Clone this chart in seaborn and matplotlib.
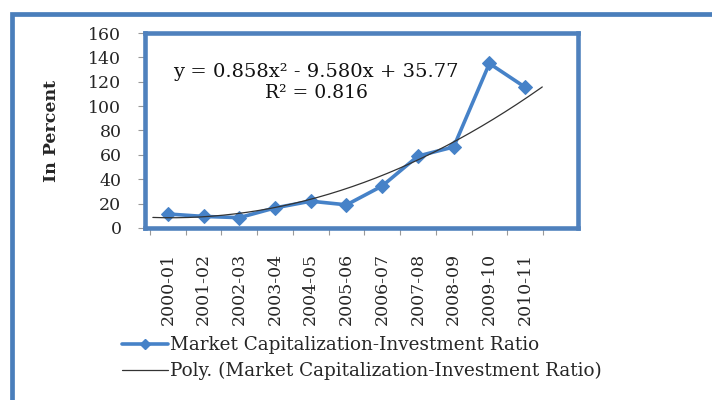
import numpy as np
import pandas as pd
import matplotlib
matplotlib.use("Agg")
import matplotlib.pyplot as plt
from matplotlib.patches import Rectangle
from matplotlib.lines import Line2D
import seaborn as sns

# ---- data ----
periods = ['2000-01', '2001-02', '2002-03', '2003-04', '2004-05', '2005-06',
           '2006-07', '2007-08', '2008-09', '2009-10', '2010-11']
ratio = [11.5, 9.5, 8.5, 16.5, 22, 19, 34.5, 59, 66.5, 135, 115.5]
# polynomial trendline at each period
trend = [9, 9.5, 11, 16, 24, 32, 44, 57, 70, 87, 106]
yticks = [0, 20, 40, 60, 80, 100, 120, 140, 160]
series_name = 'Market Capitalization-Investment Ratio'
trend_name = 'Poly. (Market Capitalization-Investment Ratio)'
eq_text = 'y = 0.858x\u00b2 - 9.580x + 35.77'
r2_text = 'R\u00b2 = 0.816'
ylabel = 'In Percent'

sns.set_theme(style='white')
plt.rcParams['font.family'] = ['DejaVu Serif', 'Liberation Serif']

W, H = 712, 400
fig = plt.figure(figsize=(W / 100, H / 100), dpi=100)
fig.patch.set_facecolor('white')

# outer chart frame
fig.patches.append(Rectangle((12 / W, -0.2), 1.2, 1.2 - 14 / H,
                             transform=fig.transFigure, fill=False,
                             edgecolor='#4a7ebb', linewidth=3.4, zorder=0))

ax = fig.add_axes([145 / W, 1 - 228 / H, (578 - 145) / W, (228 - 33) / H])

df = pd.DataFrame({'idx': np.arange(len(periods)), 'val': ratio, 'trend': trend})

blue = '#4682c8'
sns.lineplot(data=df, x='idx', y='val', ax=ax, color=blue, linewidth=2.6,
             marker='D', markersize=7, markeredgecolor=blue, markerfacecolor=blue,
             zorder=3, legend=False)

# order-2 polynomial trendline (through the trend values)
coef = np.polyfit(df['idx'], df['trend'], 2)
xs = np.linspace(-0.42, len(periods) - 1 + 0.48, 200)
ax.plot(xs, np.polyval(coef, xs), color='#333333', linewidth=0.9, zorder=4)

ax.set_xlim(-0.64, 11.48)
ax.set_ylim(0, 160)
ax.set_yticks(yticks)
ax.set_yticklabels([str(v) for v in yticks], fontsize=12.5)
ax.set_xticks(np.arange(len(periods)))
ax.set_xticklabels(periods, rotation=90, fontsize=12.5)
ax.set_xticks(np.arange(len(periods) + 1) - 0.5, minor=True)
ax.tick_params(axis='x', which='major', length=0, pad=18)
ax.tick_params(axis='x', which='minor', length=5, width=0.8, color='#999999',
               direction='out', bottom=True)
ax.tick_params(axis='y', which='major', length=5, width=0.8, color='#999999',
               direction='out', left=True, pad=12)
ax.set_xlabel('')
ax.set_ylabel(ylabel, fontsize=12.5, fontweight='bold', labelpad=20)
for s in ax.spines.values():
    s.set_visible(True)
    s.set_color('#4f81bd')
    s.set_linewidth(3.3)
ax.grid(False)
ax.set_facecolor('white')

ax.text(0.395, 0.80, eq_text, transform=ax.transAxes, ha='center', va='center',
        fontsize=14, color='#111111')
ax.text(0.395, 0.69, r2_text, transform=ax.transAxes, ha='center', va='center',
        fontsize=13.5, color='#111111')

handles = [Line2D([], [], color=blue, linewidth=2.6, marker='D', markersize=5,
                  markerfacecolor=blue, markeredgecolor=blue),
           Line2D([], [], color='#333333', linewidth=0.9)]
fig.legend(handles, [series_name, trend_name], loc='upper left',
           bbox_to_anchor=(122 / W, 1 - 336 / H), frameon=False, fontsize=13.2,
           handlelength=2.5, handletextpad=0.1, labelspacing=0.45,
           borderpad=0, borderaxespad=0)

fig.savefig('out.png', dpi=100, facecolor='white')
